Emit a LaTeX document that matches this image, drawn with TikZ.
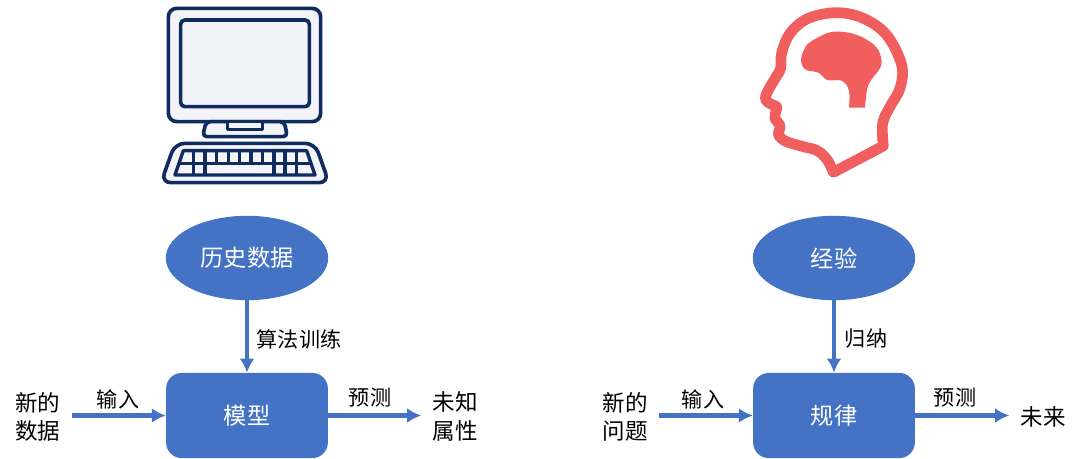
\documentclass[tikz,border=0pt]{standalone}
\usepackage{fontspec}
\setmainfont{Noto Sans CJK SC}
\usetikzlibrary{arrows.meta,shapes.geometric}
\definecolor{blau}{HTML}{4472C4}
\definecolor{navy}{HTML}{0F2B5F}
\definecolor{hell}{HTML}{F3F4F7}
\definecolor{rot}{HTML}{F15E5E}
\tikzset{
	wolke/.style={ellipse,fill=blau,text=white,minimum width=115.5pt,minimum height=60pt,inner sep=0pt,font=\fontsize{16.5}{20}\selectfont},
	kiste/.style={rectangle,rounded corners=11pt,fill=blau,text=white,minimum width=115pt,minimum height=60.5pt,inner sep=0pt,font=\fontsize{16.5}{20}\selectfont},
	wort/.style={align=center,inner sep=7.8pt,font=\fontsize{16}{20}\selectfont},
	marke/.style={inner sep=0pt,font=\fontsize{15}{20}\selectfont},
	pfeil/.style={draw=blau,line width=3.5pt,-{Latex[length=10pt,width=10.5pt]}},
	rahmen/.style={draw=navy,fill=hell,line width=2.6pt,line join=round},
	kopf/.style={draw=rot,line width=7.6pt,line join=round}
}
\def\rechner{
	\draw[rahmen,rounded corners=6pt] (55,25) rectangle (512,365);
	\draw[rahmen,rounded corners=3pt] (92,60) rectangle (478,320);
	\draw[rahmen,rounded corners=3pt] (168,365) -- (403,365) -- (412,410) -- (158,410) -- cycle;
	\draw[rahmen] (232,365) rectangle (338,388);
	\draw[rahmen,rounded corners=7pt] (75,430) -- (495,430) -- (537,548) -- (33,548) -- cycle;
	\draw[rahmen,line width=2.4pt] (100,452) -- (470,452) -- (495,525) -- (75,525) -- cycle;
	% tasten
	\draw[navy,line width=2.6pt] (90,490) -- (482,490);
	\foreach \x in {130,165,200,235,268,303,338,372,405,440}{
		\draw[navy,line width=2.3pt] (\x,452) -- (\x,490);
	}
	\foreach \x in {130,165,372,405,440}{
		\draw[navy,line width=2.3pt] (\x,490) -- (\x,525);
	}
}
\def\schaedel{
	\draw[kopf] (430,438) -- (280,517)
		-- plot[smooth,tension=0.6] coordinates {(280,517) (262,480) (232,452) (190,440) (140,425) (116,405) (120,378) (105,355) (108,332) (110,320) (92,312) (76,297) (85,270) (110,228) (122,205) (125,160) (150,100) (205,55) (290,38) (370,55) (440,105) (485,195) (480,265) (450,320) (428,370) (430,438)}
		-- cycle;
	\fill[rot] (375,323) -- (327,323)
		-- plot[smooth,tension=0.6] coordinates {(327,323) (327,272) (305,242) (262,240) (235,218) (195,208) (183,178) (192,150) (208,128) (260,100) (300,95) (345,103) (385,122) (415,150) (424,195) (395,238) (382,265) (375,323)}
		-- cycle;
}

\begin{document}
\begin{tikzpicture}[x=0.025cm,y=-0.025cm]
\useasboundingbox (0,0) rectangle (1080,459);
\begin{scope}[shift={(150,0)},scale=1/3]
\rechner
\end{scope}
\begin{scope}[shift={(740,0)},scale=1/3]
\schaedel
\end{scope}
% links
\node[wolke] (datenL) at (247,258) {历史数据};
\node[kiste] (modell) at (247,415.5) {模型};
\node[wort] (neuL) at (38,416.5) {新的\\数据};
\node[wort] (attr) at (455,416.5) {未知\\属性};
\draw[pfeil] (datenL) -- (modell);
\draw[pfeil] (neuL.east |- modell.west) -- (modell.west);
\draw[pfeil] (modell.east) -- (attr.west |- modell.east);
\node[marke] (algo) at (299,339) {算法训练};
\node[marke] (einL) at (118,399) {输入};
\node[marke] (vorL) at (370,398) {预测};
% rechts
\node[wolke] (erfahrung) at (834,258) {经验};
\node[kiste] (regel) at (834,415.5) {规律};
\node[wort] (neuR) at (625,416.5) {新的\\问题};
\node[wort] (zukunft) at (1043,416.5) {未来};
\draw[pfeil] (erfahrung) -- (regel);
\draw[pfeil] (neuR.east |- regel.west) -- (regel.west);
\draw[pfeil] (regel.east) -- (zukunft.west |- regel.east);
\node[marke] (induktion) at (866,339) {归纳};
\node[marke] (einR) at (703,399) {输入};
\node[marke] (vorR) at (955,398) {预测};
\end{tikzpicture}
\end{document}
